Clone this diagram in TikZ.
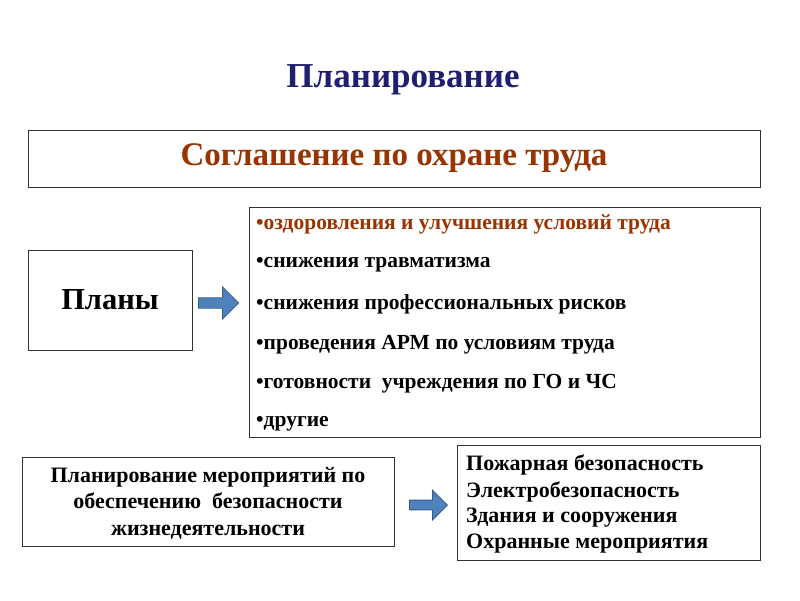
\documentclass[tikz,border=0pt]{standalone}
\usepackage{fontspec}
\setmainfont{Liberation Serif}
\usetikzlibrary{shapes.arrows}
\definecolor{navy}{HTML}{1F1F6F}
\definecolor{brick}{HTML}{993300}
\definecolor{arrblue}{HTML}{4F81BD}
\definecolor{arrline}{HTML}{385D8A}
\begin{document}
\begin{tikzpicture}[x=1pt,y=-1pt,
  box/.style={draw=black!80,line width=0.8pt,fill=white},
  bigarrow/.style={single arrow,draw=arrline,fill=arrblue,line width=0.8pt,minimum height=40pt,minimum width=32pt,single arrow head extend=5pt,inner sep=2pt},
  item/.style={anchor=west,font=\fontsize{21.5}{24}\selectfont\bfseries,inner sep=0pt},
  bitem/.style={anchor=west,font=\fontsize{22}{24}\selectfont\bfseries,inner sep=0pt}]
\useasboundingbox (0,0) rectangle (800,600);
\node (title) at (403,80) {\fontsize{35}{38}\selectfont\bfseries\color{navy}Планирование};
\draw[box] (28,130) rectangle (760,187);
\node (agr) at (394,158) {\fontsize{33}{36}\selectfont\bfseries\color{brick}Соглашение по охране труда};
\draw[box] (28,250) rectangle (192,350);
\node (plans) at (110,300) {\fontsize{30.5}{33}\selectfont\bfseries Планы};
\node[bigarrow] (a1) at (216,303) {};
\draw[box] (249,207) rectangle (760,437);
\node[item,text=brick] (i1) at (256,224) {•оздоровления и улучшения условий труда};
\node[item] (i2) at (256,265) {•снижения травматизма};
\node[item] (i3) at (256,304) {•снижения профессиональных рисков};
\node[item] (i4) at (256,345) {•проведения АРМ по условиям труда};
\node[item] (i5) at (256,384) {•готовности \ учреждения по ГО и ЧС};
\node[item] (i6) at (256,424) {•другие};
\draw[box] (22,457) rectangle (394,546);
\node[align=center,font=\fontsize{22}{26.5}\selectfont\bfseries] (plan2) at (208,503) {Планирование мероприятий по\\обеспечению \ безопасности\\жизнедеятельности};
\node[bigarrow,minimum height=38pt,minimum width=30pt] (a2) at (426,505) {};
\draw[box] (457,445) rectangle (760,560);
\node[bitem] (j1) at (466,465) {Пожарная безопасность};
\node[bitem] (j2) at (466,492) {Электробезопасность};
\node[bitem] (j3) at (466,518) {Здания и сооружения};
\node[bitem] (j4) at (466,544) {Охранные мероприятия};
\end{tikzpicture}
\end{document}
